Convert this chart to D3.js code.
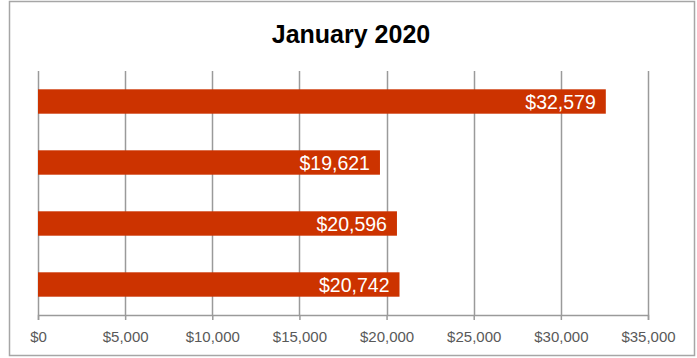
<!DOCTYPE html>
<html><head><meta charset="utf-8">
<script src="https://cdn.jsdelivr.net/npm/d3@7"></script>
<style>html,body{margin:0;padding:0;background:#fff;}svg{display:block;}</style>
</head><body>
<svg id="chart" width="697" height="358"></svg>
<script>
const title = "January 2020";
const categories = ["A", "B", "C", "D"];
const values = [32579, 19621, 20596, 20742];
const tickValues = [0, 5000, 10000, 15000, 20000, 25000, 30000, 35000];

const svg = d3.select("#chart");
const W = 697, H = 358;
const margin = {left: 38, right: 49, top: 71, bottom: 43};

svg.append("rect").attr("x", 9.5).attr("y", 1.5).attr("width", 685).attr("height", 354)
  .attr("fill", "#fff").attr("stroke", "#a6a6a6").attr("stroke-width", 1.5);

const x = d3.scaleLinear().domain([0, 35000]).range([margin.left, W - margin.right]);
const y = d3.scaleBand().domain(categories).range([margin.top, H - margin.bottom]).paddingInner(0.6).paddingOuter(0.3);

svg.append("text").attr("x", 351).attr("y", 43).attr("text-anchor", "middle")
  .attr("font-family", "Liberation Sans, Arial, sans-serif").attr("font-weight", "bold")
  .attr("font-size", 25).attr("fill", "#000").text(title);

// gridlines
svg.append("g").selectAll("line").data(tickValues).join("line")
  .attr("x1", d => Math.round(x(d)) + 0.5).attr("x2", d => Math.round(x(d)) + 0.5)
  .attr("y1", margin.top).attr("y2", H - margin.bottom)
  .attr("stroke", "#9a9a9a").attr("stroke-width", 1.5);

// bars
svg.append("g").selectAll("rect").data(values).join("rect")
  .attr("x", x(0)).attr("y", (d, i) => y(categories[i]))
  .attr("width", d => x(d) - x(0)).attr("height", y.bandwidth())
  .attr("fill", "#cc3300");

// labels
svg.append("g").selectAll("text").data(values).join("text")
  .attr("x", d => x(d) - 10).attr("y", (d, i) => y(categories[i]) + y.bandwidth() / 2 + 7)
  .attr("text-anchor", "end").attr("fill", "#fff")
  .attr("font-family", "Liberation Sans, Arial, sans-serif").attr("font-size", 19.5)
  .text(d => "$" + d3.format(",")(d));

// x axis
const axis = d3.axisBottom(x).tickValues(tickValues).tickSize(5).tickFormat(d => "$" + d3.format(",")(d));
const g = svg.append("g").attr("transform", `translate(0,${H - margin.bottom})`).call(axis);
g.select(".domain").attr("stroke", "#9a9a9a").attr("stroke-width", 1.5);
g.selectAll(".tick line").attr("stroke", "#9a9a9a").attr("stroke-width", 1.5);
g.selectAll(".tick text").attr("font-family", "Liberation Sans, Arial, sans-serif")
  .attr("font-size", 15).attr("fill", "#595959").attr("dy", 0).attr("y", 27);
</script>
</body></html>
